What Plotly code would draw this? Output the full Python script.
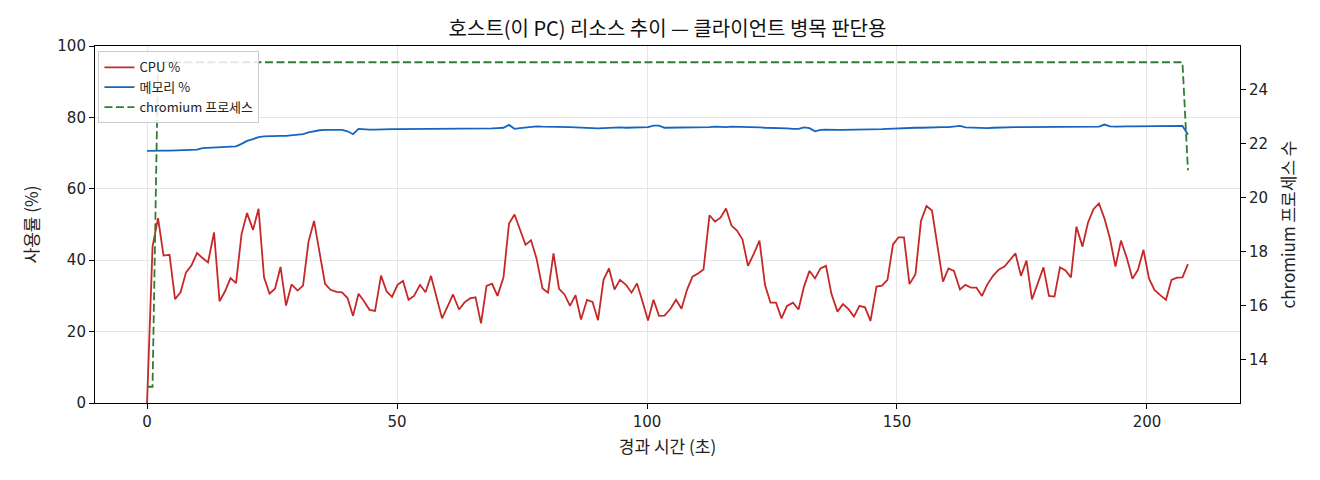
import plotly.graph_objects as go

# elapsed seconds of each sample
elapsed_s = [
    0.0, 1.1, 2.2, 3.3, 4.5, 5.6, 6.7, 7.8, 8.9, 10.0, 11.1, 12.2, 13.4, 14.5, 15.6, 16.7, 17.8, 18.9, 20.0, 21.2,
    22.3, 23.4, 24.5, 25.6, 26.7, 27.8, 28.9, 30.1, 31.2, 32.3, 33.4, 34.5, 35.6, 36.7, 37.9, 39.0, 40.1, 41.2, 42.3, 43.4,
    44.5, 45.6, 46.8, 47.9, 49.0, 50.1, 51.2, 52.3, 53.4, 54.6, 55.7, 56.8, 57.9, 59.0, 60.1, 61.2, 62.4, 63.5, 64.6, 65.7,
    66.8, 67.9, 69.0, 70.1, 71.3, 72.4, 73.5, 74.6, 75.7, 76.8, 77.9, 79.1, 80.2, 81.3, 82.4, 83.5, 84.6, 85.7, 86.8, 88.0,
    89.1, 90.2, 91.3, 92.4, 93.5, 94.6, 95.8, 96.9, 98.0, 99.1, 100.2, 101.3, 102.4, 103.5, 104.7, 105.8, 106.9, 108.0, 109.1, 110.2,
    111.3, 112.5, 113.6, 114.7, 115.8, 116.9, 118.0, 119.1, 120.2, 121.4, 122.5, 123.6, 124.7, 125.8, 126.9, 128.0, 129.2, 130.3, 131.4, 132.5,
    133.6, 134.7, 135.8, 136.9, 138.1, 139.2, 140.3, 141.4, 142.5, 143.6, 144.7, 145.9, 147.0, 148.1, 149.2, 150.3, 151.4, 152.5, 153.7, 154.8,
    155.9, 157.0, 158.1, 159.2, 160.3, 161.4, 162.6, 163.7, 164.8, 165.9, 167.0, 168.1, 169.2, 170.4, 171.5, 172.6, 173.7, 174.8, 175.9, 177.0,
    178.1, 179.3, 180.4, 181.5, 182.6, 183.7, 184.8, 185.9, 187.1, 188.2, 189.3, 190.4, 191.5, 192.6, 193.7, 194.8, 196.0, 197.1, 198.2, 199.3,
    200.4, 201.5, 202.6, 203.8, 204.9, 206.0, 207.1, 208.2,
]

cpu_pct = [
    0.0, 43.8, 51.8, 41.3, 41.5, 29.1, 31.0, 36.6, 38.6, 42.0, 40.6, 39.4, 47.8, 28.5, 31.3, 35.0, 33.6, 47.3, 53.2, 48.5,
    54.4, 35.2, 30.6, 32.0, 38.1, 27.3, 33.2, 31.5, 32.9, 45.2, 51.0, 42.0, 33.4, 31.7, 31.1, 31.0, 29.4, 24.4, 30.6, 28.5,
    26.1, 25.8, 35.7, 31.3, 29.7, 33.1, 34.2, 28.9, 30.0, 33.1, 31.0, 35.6, 29.9, 23.7, 27.0, 30.4, 26.2, 28.2, 29.3, 29.6,
    22.3, 32.8, 33.4, 30.0, 35.2, 50.3, 52.8, 48.7, 44.3, 45.6, 40.5, 32.1, 30.9, 41.9, 32.0, 30.4, 27.2, 30.2, 23.4, 28.9,
    28.3, 23.2, 34.5, 37.7, 31.8, 34.5, 33.1, 30.9, 33.5, 28.4, 23.1, 28.9, 24.4, 24.5, 26.4, 28.9, 26.4, 31.7, 35.4, 36.3,
    37.4, 52.6, 50.8, 51.9, 54.5, 49.7, 48.3, 45.8, 38.4, 41.9, 45.5, 33.1, 28.1, 28.1, 23.7, 27.2, 28.1, 26.2, 32.6, 37.0,
    34.9, 37.7, 38.4, 30.5, 25.6, 27.7, 26.3, 24.2, 27.2, 26.8, 23.0, 32.6, 32.9, 34.5, 44.4, 46.4, 46.4, 33.3, 36.1, 51.0,
    55.2, 53.9, 44.3, 34.0, 37.7, 37.0, 31.8, 33.1, 32.3, 32.3, 30.0, 33.3, 35.6, 37.4, 38.2, 40.2, 41.9, 35.6, 39.9, 29.0,
    33.5, 38.0, 30.0, 29.8, 38.0, 37.1, 35.2, 49.4, 43.8, 50.5, 54.3, 55.9, 51.7, 46.1, 38.2, 45.5, 40.5, 34.8, 37.3, 42.9,
    34.9, 31.7, 30.3, 28.9, 34.5, 35.1, 35.2, 38.9,
]

mem_pct = [
    70.6, 70.7, 70.8, 70.7, 70.7, 70.8, 70.8, 70.8, 70.9, 71.0, 71.4, 71.5, 71.5, 71.5, 71.6, 71.7, 71.9, 72.6, 73.4, 73.9,
    74.5, 74.7, 74.8, 74.7, 74.8, 74.8, 74.9, 75.0, 75.3, 75.8, 76.2, 76.4, 76.5, 76.5, 76.6, 76.5, 76.1, 75.3, 76.8, 76.6,
    76.6, 76.6, 76.7, 76.7, 76.7, 76.7, 76.7, 76.7, 76.8, 76.7, 76.7, 76.7, 76.8, 76.7, 76.7, 76.8, 76.7, 76.8, 76.8, 76.8,
    76.9, 76.9, 76.9, 77.0, 77.1, 77.9, 76.8, 77.0, 77.1, 77.3, 77.5, 77.4, 77.4, 77.5, 77.4, 77.3, 77.3, 77.2, 77.1, 77.0,
    76.9, 76.9, 77.0, 77.1, 77.1, 77.2, 77.1, 77.2, 77.2, 77.2, 77.3, 77.7, 77.7, 77.1, 77.1, 77.1, 77.1, 77.2, 77.2, 77.3,
    77.2, 77.3, 77.4, 77.3, 77.3, 77.4, 77.4, 77.3, 77.4, 77.2, 77.2, 77.1, 77.0, 77.0, 76.9, 76.9, 76.8, 76.8, 77.2, 77.0,
    76.1, 76.5, 76.6, 76.5, 76.5, 76.5, 76.5, 76.5, 76.5, 76.5, 76.5, 76.6, 76.7, 76.8, 76.9, 76.9, 77.0, 77.0, 77.1, 77.1,
    77.2, 77.2, 77.3, 77.3, 77.3, 77.5, 77.6, 77.2, 77.1, 77.0, 76.9, 77.0, 77.1, 77.2, 77.2, 77.3, 77.3, 77.3, 77.3, 77.2,
    77.2, 77.3, 77.2, 77.2, 77.2, 77.2, 77.2, 77.2, 77.3, 77.3, 77.3, 77.4, 78.0, 77.5, 77.4, 77.5, 77.5, 77.5, 77.5, 77.6,
    77.7, 77.7, 77.7, 77.7, 77.7, 77.6, 77.6, 75.2,
]

chromium_procs = [13, 13] + [25] * 185 + [21]

left_ticks = [0, 20, 40, 60, 80, 100]
right_ticks = [14, 16, 18, 20, 22, 24]
x_ticks = [0, 50, 100, 150, 200]

FONT = "DejaVu Sans, Noto Sans CJK KR, sans-serif"
KFONT = "Noto Sans CJK KR, DejaVu Sans, sans-serif"
RED = "#c62828"
BLUE = "#1565c0"
GREEN = "#2e7d32"
TXT = "#222222"

fig = go.Figure()
fig.add_trace(go.Scatter(x=elapsed_s, y=cpu_pct, mode="lines", name="CPU %",
                         line=dict(color=RED, width=1.8)))
fig.add_trace(go.Scatter(x=elapsed_s, y=mem_pct, mode="lines", name="메모리 %",
                         line=dict(color=BLUE, width=1.8)))
fig.add_trace(go.Scatter(x=elapsed_s, y=chromium_procs, mode="lines", name="chromium 프로세스",
                         line=dict(color=GREEN, width=1.8, dash="8px,3.5px"), yaxis="y2"))

xmin, xmax = min(elapsed_s), max(elapsed_s)
xpad = (xmax - xmin) * 0.05
cmin, cmax = min(chromium_procs), max(chromium_procs)
cpad = (cmax - cmin) * 0.05

axis_common = dict(
    showline=True, linecolor="black", linewidth=1.1,
    ticks="outside", ticklen=5, tickwidth=1, tickcolor="black",
    tickfont=dict(family=FONT, size=15, color=TXT),
    zeroline=False,
)

# page body has an 8px margin, so the figure is 16px smaller than the window
W, H = 1304, 464
fig.update_layout(
    width=W, height=H, autosize=False,
    paper_bgcolor="white", plot_bgcolor="white",
    margin=dict(l=87, r=72, t=38, b=69),
    font=dict(family=KFONT, color=TXT),
    title=dict(text="호스트(이 PC) 리소스 추이 — 클라이언트 병목 판단용",
               x=0.5, xref="paper", xanchor="center",
               y=1 - 21 / H, yref="container", yanchor="middle",
               font=dict(family=KFONT, size=20, color="#111")),
    xaxis=dict(range=[xmin - xpad, xmax + xpad], tickvals=x_ticks, mirror=True,
               showgrid=True, gridcolor="#e6e6e6", gridwidth=1,
               title=dict(text="경과 시간 (초)", font=dict(family=KFONT, size=17, color=TXT), standoff=11),
               **axis_common),
    yaxis=dict(range=[0, 100], tickvals=left_ticks,
               showgrid=True, gridcolor="#e6e6e6", gridwidth=1,
               title=dict(text="사용률 (%)", font=dict(family=KFONT, size=17, color=TXT), standoff=14),
               **axis_common),
    yaxis2=dict(range=[cmin - cpad, cmax + cpad], tickvals=right_ticks, overlaying="y", side="right",
                showgrid=False,
                title=dict(text="chromium 프로세스 수", font=dict(family=KFONT, size=17, color=TXT), standoff=15),
                **axis_common),
    legend=dict(x=0.003, y=0.985, xanchor="left", yanchor="top",
                bgcolor="rgba(255,255,255,0.85)", bordercolor="#cccccc", borderwidth=1,
                font=dict(family=KFONT, size=13, color=TXT),
                itemwidth=30, tracegroupgap=0),
    showlegend=True,
)

fig.write_html("out.html")
